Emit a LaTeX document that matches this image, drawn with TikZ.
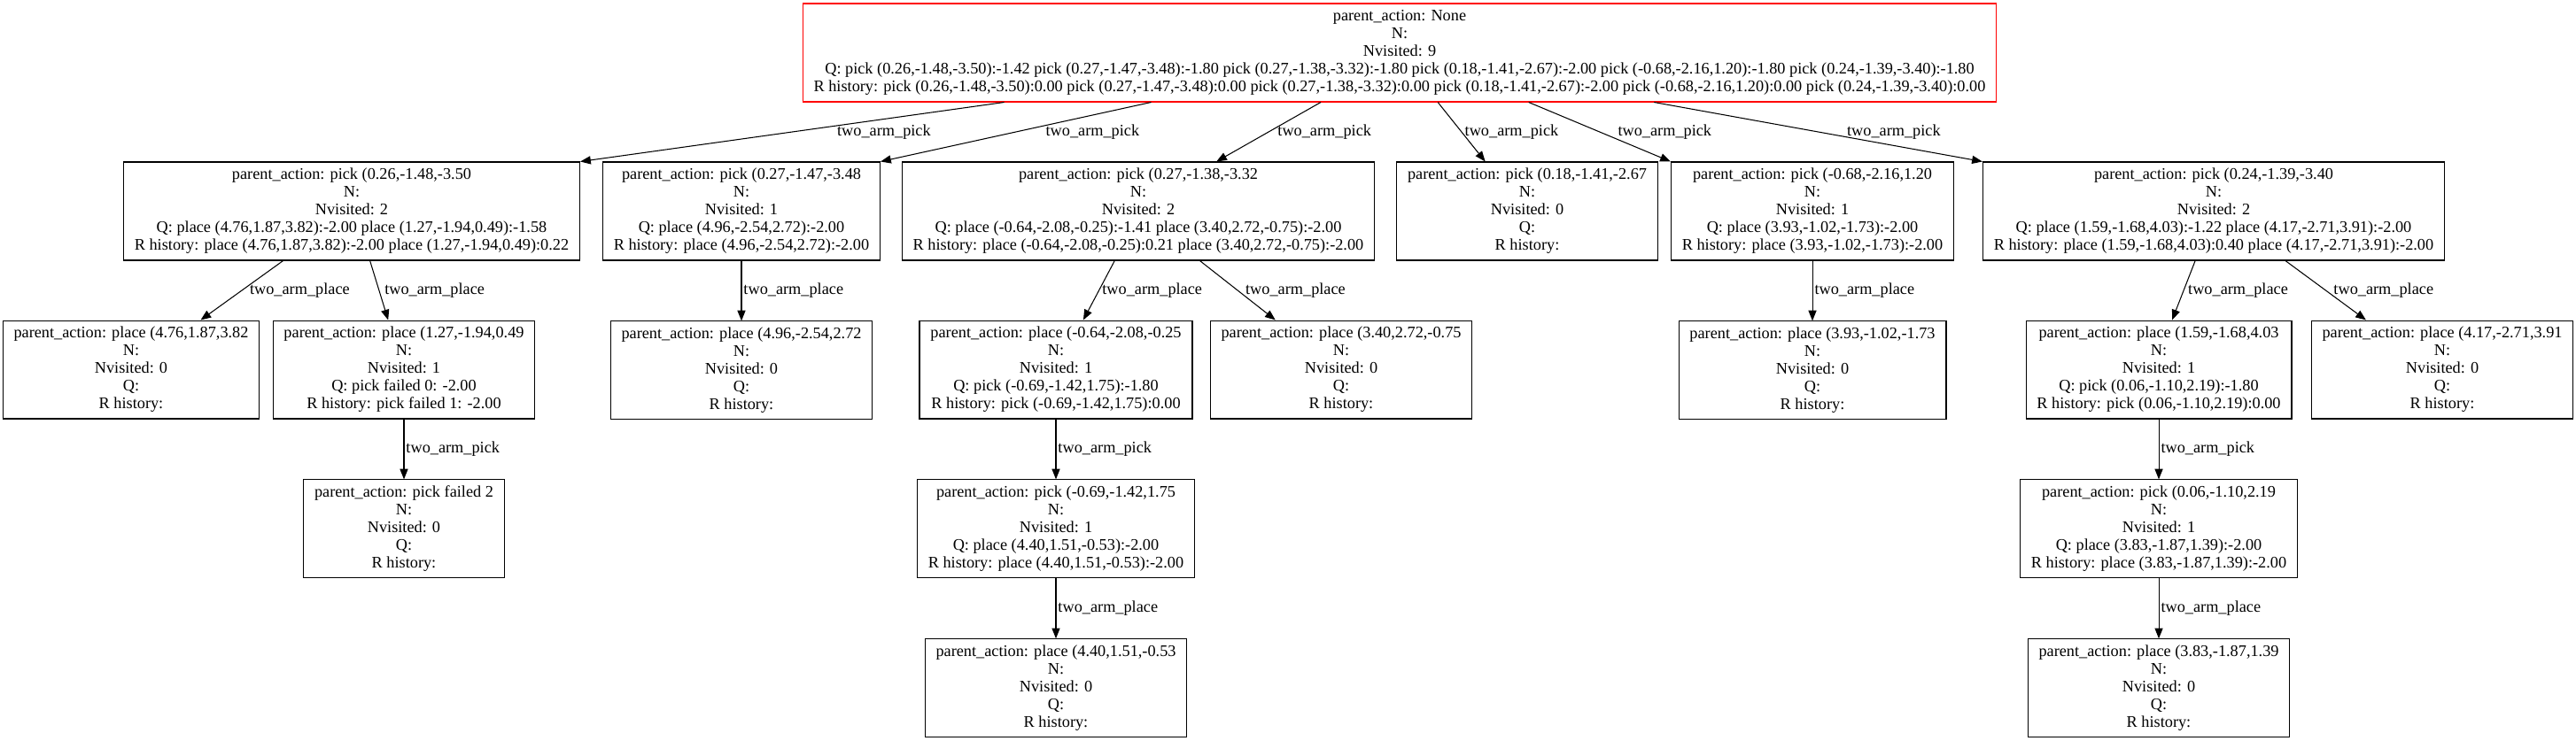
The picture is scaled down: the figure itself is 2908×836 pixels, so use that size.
\documentclass[tikz,border=0pt]{standalone}
\usepackage{fontspec}
\setmainfont{Liberation Serif}
\usetikzlibrary{positioning,calc,arrows.meta}

\newcommand{\mctsfont}{\fontsize{14pt}{15.3pt}\selectfont}

\begin{document}
\begin{tikzpicture}
        [x = 0.766pt, y = -0.766pt,
            > = {Triangle[length=9pt, width=7pt]},
            node distance = 52pt,
            line width = 0.8pt,
            main node/.style = {rectangle, draw, align=center, font=\mctsfont,
                inner xsep=9.5pt, inner ysep=4pt, minimum height=85pt},
            root node/.style = {main node, draw=red},
            act label/.style = {font=\mctsfont, anchor=west, inner sep=1.5pt}]

        \useasboundingbox (0,0) rectangle (2908,836);

        % root of the search tree
        \node[root node] (root) at (1580,59.5) {parent\_action: None\\N:\\Nvisited: 9\\Q: pick (0.26,-1.48,-3.50):-1.42 pick (0.27,-1.47,-3.48):-1.80 pick (0.27,-1.38,-3.32):-1.80 pick (0.18,-1.41,-2.67):-2.00 pick (-0.68,-2.16,1.20):-1.80 pick (0.24,-1.39,-3.40):-1.80\\R history: pick (0.26,-1.48,-3.50):0.00 pick (0.27,-1.47,-3.48):0.00 pick (0.27,-1.38,-3.32):0.00 pick (0.18,-1.41,-2.67):-2.00 pick (-0.68,-2.16,1.20):0.00 pick (0.24,-1.39,-3.40):0.00};

        % pick nodes
        \node[main node] (p1) at (397,238.5) {parent\_action: pick (0.26,-1.48,-3.50\\N:\\Nvisited: 2\\Q: place (4.76,1.87,3.82):-2.00 place (1.27,-1.94,0.49):-1.58\\R history: place (4.76,1.87,3.82):-2.00 place (1.27,-1.94,0.49):0.22};
        \node[main node] (p2) at (837,238.5) {parent\_action: pick (0.27,-1.47,-3.48\\N:\\Nvisited: 1\\Q: place (4.96,-2.54,2.72):-2.00\\R history: place (4.96,-2.54,2.72):-2.00};
        \node[main node] (p3) at (1285,238.5) {parent\_action: pick (0.27,-1.38,-3.32\\N:\\Nvisited: 2\\Q: place (-0.64,-2.08,-0.25):-1.41 place (3.40,2.72,-0.75):-2.00\\R history: place (-0.64,-2.08,-0.25):0.21 place (3.40,2.72,-0.75):-2.00};
        \node[main node] (p4) at (1724,238.5) {parent\_action: pick (0.18,-1.41,-2.67\\N:\\Nvisited: 0\\Q:\\R history:};
        \node[main node] (p5) at (2046,238.5) {parent\_action: pick (-0.68,-2.16,1.20\\N:\\Nvisited: 1\\Q: place (3.93,-1.02,-1.73):-2.00\\R history: place (3.93,-1.02,-1.73):-2.00};
        \node[main node] (p6) at (2499,238.5) {parent\_action: pick (0.24,-1.39,-3.40\\N:\\Nvisited: 2\\Q: place (1.59,-1.68,4.03):-1.22 place (4.17,-2.71,3.91):-2.00\\R history: place (1.59,-1.68,4.03):0.40 place (4.17,-2.71,3.91):-2.00};

        % place nodes
        \node[main node] (p1a) at (148,417.5) {parent\_action: place (4.76,1.87,3.82\\N:\\Nvisited: 0\\Q:\\R history:};
        \node[main node] (p1b) at (456,417.5) {parent\_action: place (1.27,-1.94,0.49\\N:\\Nvisited: 1\\Q: pick failed 0: -2.00\\R history: pick failed 1: -2.00};
        \node[main node] (p2a) [below=of p2] {parent\_action: place (4.96,-2.54,2.72\\N:\\Nvisited: 0\\Q:\\R history:};
        \node[main node] (p3a) at (1192,417.5) {parent\_action: place (-0.64,-2.08,-0.25\\N:\\Nvisited: 1\\Q: pick (-0.69,-1.42,1.75):-1.80\\R history: pick (-0.69,-1.42,1.75):0.00};
        \node[main node] (p3b) at (1514,417.5) {parent\_action: place (3.40,2.72,-0.75\\N:\\Nvisited: 0\\Q:\\R history:};
        \node[main node] (p5a) [below=of p5] {parent\_action: place (3.93,-1.02,-1.73\\N:\\Nvisited: 0\\Q:\\R history:};
        \node[main node] (p6a) at (2437,417.5) {parent\_action: place (1.59,-1.68,4.03\\N:\\Nvisited: 1\\Q: pick (0.06,-1.10,2.19):-1.80\\R history: pick (0.06,-1.10,2.19):0.00};
        \node[main node] (p6b) at (2757,417.5) {parent\_action: place (4.17,-2.71,3.91\\N:\\Nvisited: 0\\Q:\\R history:};

        % deeper levels
        \node[main node] (p1ba) [below=of p1b] {parent\_action: pick failed 2\\N:\\Nvisited: 0\\Q:\\R history:};
        \node[main node] (p3aa) [below=of p3a] {parent\_action: pick (-0.69,-1.42,1.75\\N:\\Nvisited: 1\\Q: place (4.40,1.51,-0.53):-2.00\\R history: place (4.40,1.51,-0.53):-2.00};
        \node[main node] (p6aa) [below=of p6a] {parent\_action: pick (0.06,-1.10,2.19\\N:\\Nvisited: 1\\Q: place (3.83,-1.87,1.39):-2.00\\R history: place (3.83,-1.87,1.39):-2.00};
        \node[main node] (p3aaa) [below=of p3aa] {parent\_action: place (4.40,1.51,-0.53\\N:\\Nvisited: 0\\Q:\\R history:};
        \node[main node] (p6aaa) [below=of p6aa] {parent\_action: place (3.83,-1.87,1.39\\N:\\Nvisited: 0\\Q:\\R history:};

        \path[->]
        ($(root.south west)!0.169!(root.south east)$) edge node[act label, xshift=37pt] {two\_arm\_pick} (p1.north east)
        ($(root.south west)!0.292!(root.south east)$) edge node[act label, xshift=24pt] {two\_arm\_pick} (p2.north east)
        ($(root.south west)!0.434!(root.south east)$) edge node[act label, xshift=6pt] {two\_arm\_pick} ($(p3.north west)!0.665!(p3.north east)$)
        ($(root.south west)!0.532!(root.south east)$) edge node[act label, xshift=1pt] {two\_arm\_pick} ($(p4.north west)!0.34!(p4.north east)$)
        ($(root.south west)!0.608!(root.south east)$) edge node[act label, xshift=14pt] {two\_arm\_pick} (p5.north west)
        ($(root.south west)!0.713!(root.south east)$) edge node[act label, xshift=23pt] {two\_arm\_pick} (p6.north west);

        \path[->]
        ($(p1.south west)!0.35!(p1.south east)$) edge node[act label, xshift=5pt] {two\_arm\_place} ($(p1a.north west)!0.77!(p1a.north east)$)
        ($(p1.south west)!0.54!(p1.south east)$) edge node[act label, xshift=3pt] {two\_arm\_place} ($(p1b.north west)!0.44!(p1b.north east)$)
        (p2) edge node[act label] {two\_arm\_place} (p2a)
        ($(p3.south west)!0.45!(p3.south east)$) edge node[act label, xshift=1pt] {two\_arm\_place} ($(p3a.north west)!0.6!(p3a.north east)$)
        ($(p3.south west)!0.63!(p3.south east)$) edge node[act label, xshift=5pt] {two\_arm\_place} ($(p3b.north west)!0.25!(p3b.north east)$)
        (p5) edge node[act label] {two\_arm\_place} (p5a)
        ($(p6.south west)!0.46!(p6.south east)$) edge node[act label, xshift=2pt] {two\_arm\_place} ($(p6a.north west)!0.55!(p6a.north east)$)
        ($(p6.south west)!0.655!(p6.south east)$) edge node[act label, xshift=5pt] {two\_arm\_place} ($(p6b.north west)!0.21!(p6b.north east)$)
        (p1b) edge node[act label] {two\_arm\_pick} (p1ba)
        (p3a) edge node[act label] {two\_arm\_pick} (p3aa)
        (p3aa) edge node[act label] {two\_arm\_place} (p3aaa)
        (p6a) edge node[act label] {two\_arm\_pick} (p6aa)
        (p6aa) edge node[act label] {two\_arm\_place} (p6aaa);
    \end{tikzpicture}
\end{document}
